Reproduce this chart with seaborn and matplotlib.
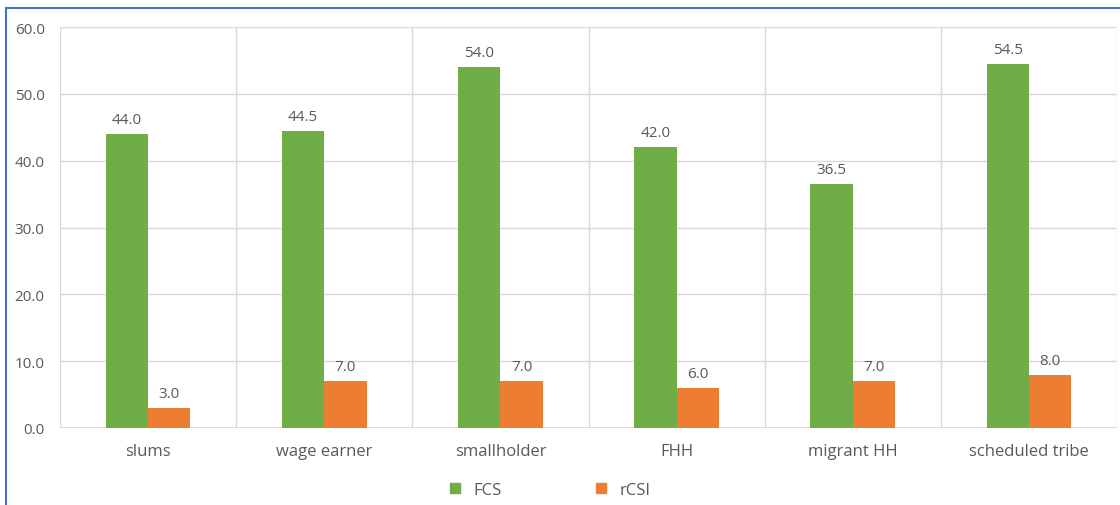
import pandas as pd
import matplotlib.pyplot as plt
import matplotlib.patches as mpatches
from matplotlib.lines import Line2D
import seaborn as sns

# Chart values
groups = ['slums', 'wage earner', 'smallholder', 'FHH', 'migrant HH', 'scheduled tribe']
fcs = [44.0, 44.5, 54.0, 42.0, 36.5, 54.5]
rcsi = [3.0, 7.0, 7.0, 6.0, 7.0, 8.0]
series = ['FCS', 'rCSI']
colors = {'FCS': '#70AD47', 'rCSI': '#ED7D31'}

df = pd.DataFrame({
    'group': groups * 2,
    'indicator': ['FCS'] * len(groups) + ['rCSI'] * len(groups),
    'value': fcs + rcsi,
})

sns.set_style('white')
plt.rcParams['font.family'] = ['Open Sans', 'DejaVu Sans']
text_col = '#595959'
grid_col = '#D9D9D9'

fig = plt.figure(figsize=(11.2, 5.06), dpi=100)
ax = fig.add_axes([60 / 1120, 1 - 429 / 506, 1057 / 1120, 401 / 506])

sns.barplot(data=df, x='group', y='value', hue='indicator', order=groups,
            hue_order=series, palette=colors, width=0.48, saturation=1,
            edgecolor='none', legend=False, ax=ax)

for cont in ax.containers:
    ax.bar_label(cont, fmt='%.1f', padding=5, fontsize=11, color=text_col)

ax.set_ylim(0, 60)
ax.set_xlim(-0.5, len(groups) - 0.5)
ax.set_yticks(range(0, 61, 10))
ax.set_yticklabels([f'{v:.1f}' for v in range(0, 61, 10)])
ax.set_xticks(range(len(groups)), groups)
ax.set_xticks([i - 0.5 for i in range(len(groups) + 1)], minor=True)
ax.grid(axis='y', color=grid_col, lw=1)
ax.grid(axis='x', which='minor', color=grid_col, lw=1)
ax.set_axisbelow(True)
ax.tick_params(axis='both', which='both', length=0, colors=text_col)
ax.tick_params(axis='y', labelsize=11, pad=11)
ax.tick_params(axis='x', labelsize=12, pad=11)
for s in ax.spines.values():
    s.set_visible(False)
ax.axhline(0, color=grid_col, lw=1.2, zorder=0.5)
ax.set_xlabel('')
ax.set_ylabel('')

handles = [Line2D([], [], marker='s', ls='none', color=colors[s], markersize=7) for s in series]
fig.legend(handles, series, loc='center', bbox_to_anchor=(0.486, 0.03), ncol=2,
           frameon=False, fontsize=12, labelcolor=text_col, columnspacing=5.0,
           handletextpad=0.1)

border = mpatches.Rectangle((6 / 1120, -0.1), 1.2, 1.1 - 9 / 506, transform=fig.transFigure,
                            fill=False, edgecolor='#4472C4', lw=1.5, clip_on=False)
fig.patches.append(border)

fig.savefig('out.png', dpi=100)
